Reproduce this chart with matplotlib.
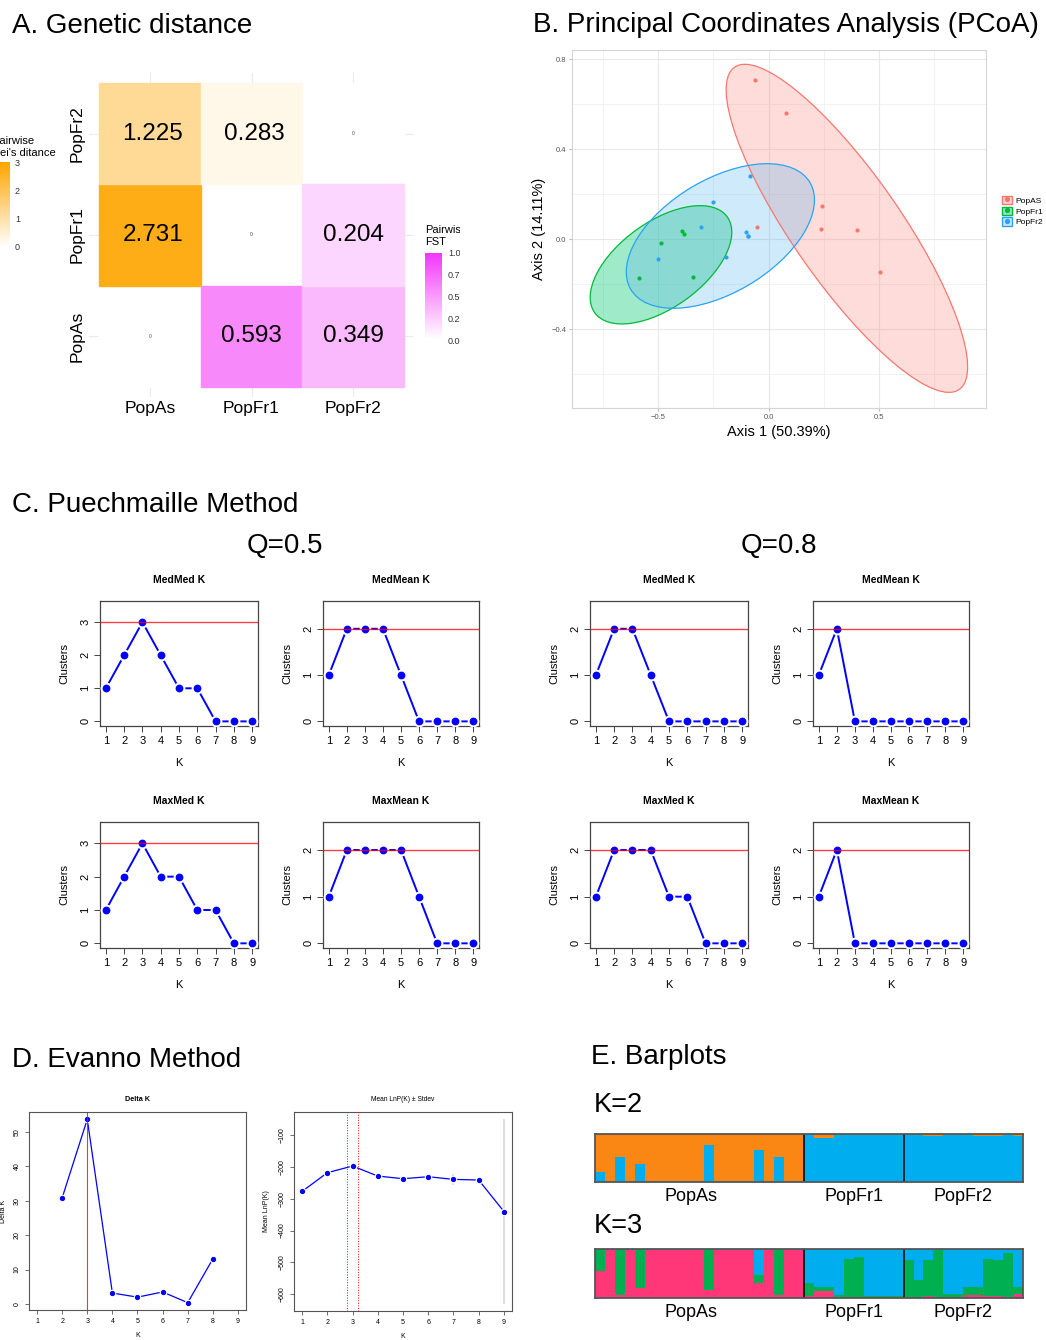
import numpy as np
import matplotlib
matplotlib.use("Agg")
import matplotlib.pyplot as plt
from matplotlib.patches import Rectangle, Ellipse, Patch
from matplotlib.lines import Line2D
from matplotlib.colors import LinearSegmentedColormap, Normalize
from matplotlib.transforms import Bbox, TransformedBbox, ScaledTranslation

plt.rcParams['font.family'] = ['Liberation Sans', 'DejaVu Sans']

# ----------------------------
# Data
# ----------------------------
pops = ["PopAs", "PopFr1", "PopFr2"]

# A. pairwise matrices (upper-left = Nei, lower-right = FST)
nei_x = ["PopAs", "PopAs", "PopFr1"]
nei_y = ["PopFr1", "PopFr2", "PopFr2"]
nei_val = [2.731, 1.225, 0.283]
fst_x = ["PopFr1", "PopFr2", "PopFr2"]
fst_y = ["PopAs", "PopAs", "PopFr1"]
fst_val = [0.593, 0.349, 0.204]

# B. PCoA coordinates
pcoa_groups = ["PopAS", "PopFr1", "PopFr2"]
as_x = [-0.06, 0.079, 0.243, 0.239, 0.40, 0.506, -0.051]
as_y = [0.706, 0.558, 0.145, 0.045, 0.042, -0.144, 0.056]
fr1_x = [-0.39, -0.382, -0.485, -0.344, -0.585]
fr1_y = [0.036, 0.024, -0.019, -0.168, -0.171]
fr2_x = [-0.083, -0.252, -0.304, -0.101, -0.094, -0.091, -0.193, -0.50]
fr2_y = [0.28, 0.163, 0.053, 0.031, 0.016, 0.013, -0.08, -0.089]
# 95% ellipses: centre, full width/height, angle (deg)
ell_cx = [0.355, -0.487, -0.218]
ell_cy = [0.048, -0.114, 0.014]
ell_w = [1.756, 0.736, 0.94]
ell_h = [0.486, 0.382, 0.505]
ell_ang = [-54.5, 35, 30]

# C. Puechmaille estimators, K = 1..9
k_vals = list(range(1, 10))
q05_medmed = [1, 2, 3, 2, 1, 1, 0, 0, 0]
q05_medmean = [1, 2, 2, 2, 1, 0, 0, 0, 0]
q05_maxmed = [1, 2, 3, 2, 2, 1, 1, 0, 0]
q05_maxmean = [1, 2, 2, 2, 2, 1, 0, 0, 0]
q08_medmed = [1, 2, 2, 1, 0, 0, 0, 0, 0]
q08_medmean = [1, 2, 0, 0, 0, 0, 0, 0, 0]
q08_maxmed = [1, 2, 2, 2, 1, 1, 0, 0, 0]
q08_maxmean = [1, 2, 0, 0, 0, 0, 0, 0, 0]

# D. Evanno
delta_k_x = [2, 3, 4, 5, 6, 7, 8]
delta_k = [30.8, 53.6, 3.2, 2.0, 3.5, 0.4, 13.1]
lnp_mean = [-276.8, -217.9, -196.8, -228.4, -236.8, -230.5, -238.9, -241.0, -340.0]
lnp_sd = [2, 3, 2, 3, 4, 3, 18, 5, 290]
best_k = 3

# E. Admixture proportions (21 PopAs, 10 PopFr1, 12 PopFr2)
pop_sizes = [21, 10, 12]
k2_blue = [0.21, 0.02, 0.53, 0.02, 0.38, 0.02, 0.02, 0.02, 0.02, 0.02, 0.02,
           0.78, 0.02, 0.02, 0.02, 0.02, 0.67, 0.02, 0.53, 0.02, 0.02,
           0.97, 0.92, 0.92, 0.98, 0.98, 0.98, 0.98, 0.98, 0.98, 0.98,
           0.97, 0.98, 0.96, 0.96, 0.98, 0.97, 0.98, 0.96, 0.96, 0.96, 0.98, 0.95]
k3_pink = [0.55, 0.97, 0.07, 0.97, 0.20, 0.97, 0.97, 0.97, 0.97, 0.97, 0.97,
           0.16, 0.97, 0.97, 0.97, 0.97, 0.30, 0.97, 0.07, 0.97, 0.97,
           0.04, 0.14, 0.14, 0.02, 0.02, 0.02, 0.02, 0.02, 0.02, 0.02,
           0.03, 0.03, 0.04, 0.03, 0.02, 0.02, 0.06, 0.06, 0.05, 0.04, 0.03, 0.08]
k3_green = [0.42, 0.01, 0.90, 0.01, 0.77, 0.01, 0.01, 0.01, 0.01, 0.01, 0.01,
            0.81, 0.01, 0.01, 0.01, 0.01, 0.16, 0.01, 0.90, 0.01, 0.01,
            0.26, 0.08, 0.08, 0.04, 0.77, 0.81, 0.02, 0.02, 0.02, 0.02,
            0.74, 0.34, 0.73, 0.94, 0.06, 0.06, 0.17, 0.17, 0.74, 0.74, 0.89, 0.15]

# ----------------------------
# Figure helpers (pixel coordinates, origin top-left)
# ----------------------------
W, H = 1046, 1340
fig = plt.figure(figsize=(W / 100, H / 100), dpi=100)


def ax_px(x0, y0, x1, y1):
    return fig.add_axes([x0 / W, 1 - y1 / H, (x1 - x0) / W, (y1 - y0) / H])


def ftext(x, y, s, **kw):
    return fig.text(x / W, 1 - y / H, s, **kw)


# ----------------------------
# A. Genetic distance
# ----------------------------
ftext(12, 26, "A. Genetic distance", fontsize=20, va='center')

orange_cmap = LinearSegmentedColormap.from_list("nei", ["white", "#FFA500"])
pink_cmap = LinearSegmentedColormap.from_list("fst", ["white", "#F237F8"])
nei_norm = Normalize(0, 3)
fst_norm = Normalize(0, 1)

axA = ax_px(89, 73, 414, 397)
idx = {p: i for i, p in enumerate(pops)}
for i in range(3):
    axA.add_patch(Rectangle((i - 0.5, i - 0.5), 1, 1, color="white", zorder=1))
    axA.text(i, i, "0", ha='center', va='center', fontsize=3.5, color='#444444', zorder=3)
for px_, py_, v in zip(nei_x, nei_y, nei_val):
    x, y = idx[px_], idx[py_]
    axA.add_patch(Rectangle((x - 0.5, y - 0.5), 1, 1, color=orange_cmap(nei_norm(v)), zorder=1))
    axA.text(x + 0.03, y, f"{v:.3f}", ha='center', va='center', fontsize=17.5, zorder=3)
for px_, py_, v in zip(fst_x, fst_y, fst_val):
    x, y = idx[px_], idx[py_]
    axA.add_patch(Rectangle((x - 0.5, y - 0.5), 1, 1, color=pink_cmap(fst_norm(v)), zorder=1))
    axA.text(x, y, f"{v:.3f}", ha='center', va='center', fontsize=17.5, zorder=3)
axA.set_xlim(-0.6, 2.6)
axA.set_ylim(-0.6, 2.6)
axA.set_xticks(range(3))
axA.set_yticks(range(3))
axA.set_xticklabels(pops, fontsize=12.5)
axA.set_yticklabels(pops, fontsize=12.5, rotation=90, va='center')
axA.tick_params(length=0, pad=3)
axA.grid(color='#EBEBEB', lw=0.8, zorder=0)
axA.set_axisbelow(True)
for s in axA.spines.values():
    s.set_visible(False)

grad = np.linspace(0, 1, 256).reshape(-1, 1)
# Nei legend (cut by the figure edge)
axL1 = ax_px(-7, 162, 10, 247)
axL1.imshow(grad, cmap=orange_cmap, aspect='auto', origin='lower')
axL1.axis('off')
ftext(-7.5, 141, "Pairwise", fontsize=8, va='center')
ftext(-7.5, 153, "Nei's ditance", fontsize=8, va='center')
for v, yy in zip([3, 2, 1, 0], [163, 191, 219, 247]):
    ftext(15, yy, str(v), fontsize=6.5, va='center', color='#333333')

# FST legend (cut at x=460)
clip = TransformedBbox(Bbox.from_extents(0, 0, 460 / W, 1), fig.transFigure)
axL2 = ax_px(425, 253, 442, 339)
axL2.imshow(grad, cmap=pink_cmap, aspect='auto', origin='lower')
axL2.axis('off')
legtexts = [ftext(425, 230, "Pairwise", fontsize=8, va='center'),
            ftext(425, 242, "FST", fontsize=8, va='center')]
for v, yy in zip(["1.00", "0.75", "0.50", "0.25", "0.00"], [253, 275, 297, 319, 341]):
    legtexts.append(ftext(448, yy, v, fontsize=6.5, va='center', color='#333333'))
for t in legtexts:
    t.set_clip_box(clip)
    t.set_clip_on(True)

# ----------------------------
# B. PCoA
# ----------------------------
ftext(533, 25, "B. Principal Coordinates Analysis (PCoA)", fontsize=20, va='center')
axB = ax_px(572, 50, 986, 408)
pc_cols = ["#F8766D", "#00BA38", "#2AA2F5"]
pc_fill = ["#F8766D", "#10CC7A", "#56B4F0"]
pc_alpha = [0.25, 0.4, 0.28]
for cx, cy, w, h, a, ec, fc, al in zip(ell_cx, ell_cy, ell_w, ell_h, ell_ang, pc_cols, pc_fill, pc_alpha):
    axB.add_patch(Ellipse((cx, cy), w, h, angle=a, facecolor=fc, alpha=al, lw=0, zorder=2))
    axB.add_patch(Ellipse((cx, cy), w, h, angle=a, facecolor='none', edgecolor=ec, lw=0.9, zorder=3))
for xs, ys, c in zip([as_x, fr1_x, fr2_x], [as_y, fr1_y, fr2_y], pc_cols):
    axB.scatter(xs, ys, s=9, color=c, zorder=4, linewidths=0)
axB.set_xlim(-0.89, 0.985)
axB.set_ylim(-0.75, 0.84)
axB.set_xticks([-0.5, 0.0, 0.5])
axB.set_xticks([-0.75, -0.25, 0.25, 0.75], minor=True)
axB.set_yticks([-0.4, 0.0, 0.4, 0.8])
axB.set_yticks([-0.6, -0.2, 0.2, 0.6], minor=True)
axB.grid(which='major', color='#E8E8E8', lw=0.8)
axB.grid(which='minor', color='#F0F0F0', lw=0.6)
axB.set_axisbelow(True)
axB.tick_params(labelsize=5.5, labelcolor='#555555', length=2, color='#BBBBBB', pad=2)
axB.tick_params(which='minor', length=0)
for s in axB.spines.values():
    s.set_color('#D5D5D5')
    s.set_linewidth(0.8)
axB.set_xlabel("Axis 1 (50.39%)", fontsize=10.5, labelpad=3)
axB.set_ylabel("Axis 2 (14.11%)", fontsize=10.5, labelpad=4)
handles = []
for ec, fc, al in zip(pc_cols, pc_fill, pc_alpha):
    handles.append((Patch(facecolor=fc, alpha=al + 0.05, edgecolor='none'),
                    Patch(facecolor='none', edgecolor=ec, lw=1.0),
                    Line2D([], [], marker='o', ls='', color=ec, ms=2.8)))
axB.legend(handles, pcoa_groups, loc='center left', bbox_to_anchor=(1.02, 0.55),
           frameon=False, fontsize=6, handlelength=1.2, handleheight=1.2,
           labelspacing=0.2, handletextpad=0.4)

# ----------------------------
# C. Puechmaille
# ----------------------------
ftext(12, 505, "C. Puechmaille Method", fontsize=20, va='center')
ftext(285, 546, "Q=0.5", fontsize=20, va='center', ha='center')
ftext(779, 546, "Q=0.8", fontsize=20, va='center', ha='center')


def cluster_plot(ax, vals, title):
    top = max(vals) + 0.5
    ax.plot(k_vals, vals, '-', color='blue', lw=1.4, zorder=2)
    ax.plot(k_vals, vals, 'o', color='white', ms=7.5, zorder=3)
    ax.plot(k_vals, vals, 'o', color='blue', ms=4.6, zorder=4)
    ax.axhline(max(vals), color='red', lw=1, alpha=0.75, zorder=5)
    ax.set_xlim(0.68, 9.32)
    ax.set_ylim(-0.04 * top, top * 1.04)
    ax.set_xticks(k_vals)
    ax.set_yticks(range(max(vals) + 1))
    ax.tick_params(labelsize=8, length=4, width=0.7, color='#444444', pad=3)
    for lab in ax.get_yticklabels():
        lab.set_rotation(90)
        lab.set_va('center')
    for s in ax.spines.values():
        s.set_color('#444444')
        s.set_linewidth(0.9)
    ax.set_title(title, fontsize=7.5, fontweight='bold', pad=13)
    ax.set_xlabel("K", fontsize=8, labelpad=9)
    ax.set_ylabel("Clusters", fontsize=8, labelpad=8)


rows = [(601, 726), (822, 948)]
cols = [(100, 258), (323, 479), (590, 748), (813, 969)]
panels = [[(q05_medmed, "MedMed K"), (q05_medmean, "MedMean K"),
           (q08_medmed, "MedMed K"), (q08_medmean, "MedMean K")],
          [(q05_maxmed, "MaxMed K"), (q05_maxmean, "MaxMean K"),
           (q08_maxmed, "MaxMed K"), (q08_maxmean, "MaxMean K")]]
for (y0, y1), row in zip(rows, panels):
    for (x0, x1), (vals, title) in zip(cols, row):
        cluster_plot(ax_px(x0, y0, x1, y1), vals, title)

# ----------------------------
# D. Evanno
# ----------------------------
ftext(12, 1060, "D. Evanno Method", fontsize=20, va='center')

axD1 = ax_px(29, 1112, 246, 1310)
axD1.plot(delta_k_x, delta_k, '-', color='blue', lw=0.9, zorder=2)
axD1.plot(delta_k_x, delta_k, 'o', color='white', ms=4.5, zorder=3)
axD1.plot(delta_k_x, delta_k, 'o', color='blue', ms=2.8, zorder=4)
axD1.axvline(best_k, color='red', lw=0.8, alpha=0.8, zorder=5)
rng = max(delta_k) - min(delta_k)
axD1.set_ylim(min(delta_k) - 0.04 * rng, max(delta_k) + 0.04 * rng)
axD1.set_title("Delta K", fontsize=5.2, fontweight='bold', pad=8)
axD1.set_yticks(range(0, 60, 10))
axD1.set_ylabel("Delta K", fontsize=5, labelpad=5)

axD2 = ax_px(294, 1112, 512, 1311)
axD2.errorbar(k_vals, lnp_mean, yerr=lnp_sd, fmt='none', ecolor='#D8D8D8', elinewidth=1.2, zorder=1)
axD2.plot(k_vals, lnp_mean, '-', color='blue', lw=0.9, zorder=2)
axD2.plot(k_vals, lnp_mean, 'o', color='white', ms=4.5, zorder=3)
axD2.plot(k_vals, lnp_mean, 'o', color='blue', ms=2.8, zorder=4)
for xv in [best_k - 0.2, best_k + 0.2]:
    axD2.axvline(xv, color='red', lw=0.7, ls=':', zorder=5)
lo = min(m - s for m, s in zip(lnp_mean, lnp_sd))
hi = max(m + s for m, s in zip(lnp_mean, lnp_sd))
axD2.set_ylim(lo - 0.04 * (hi - lo), hi + 0.04 * (hi - lo))
axD2.set_yticks(range(-600, 0, 100))
axD2.set_title("Mean LnP(K) \u00b1 Stdev", fontsize=4.8, pad=8)
axD2.set_ylabel("Mean LnP(K)", fontsize=5, labelpad=6)

for ax in (axD1, axD2):
    ax.set_xlim(0.68, 9.32)
    ax.set_xticks(k_vals)
    ax.set_xlabel("K", fontsize=5, labelpad=5)
    ax.tick_params(labelsize=5, length=3, width=0.6, color='#555555', pad=3)
    for lab in ax.get_yticklabels():
        lab.set_rotation(90)
        lab.set_va('center')
    for s in ax.spines.values():
        s.set_color('#555555')
        s.set_linewidth(0.8)

# ----------------------------
# E. Barplots
# ----------------------------
ftext(591, 1057, "E. Barplots", fontsize=20, va='center')
ftext(594, 1105, "K=2", fontsize=19.5, va='center')
ftext(594, 1226, "K=3", fontsize=19.5, va='center')

n_ind = sum(pop_sizes)
xs = np.arange(n_ind) + 0.5
bounds = np.cumsum(pop_sizes)
centers = bounds - np.array(pop_sizes) / 2


def admix_axes(ax):
    for b in bounds[:-1]:
        ax.axvline(b, color='black', lw=1.1, zorder=5)
    ax.set_xlim(0, n_ind)
    ax.set_ylim(0, 1)
    ax.set_yticks([])
    ax.set_xticks(centers)
    ax.set_xticklabels(pops, fontsize=13)
    ax.tick_params(length=0, pad=4)
    # PopAs label sits a little left of the group centre in the original
    lab = ax.get_xticklabels()[0]
    lab.set_transform(lab.get_transform() + ScaledTranslation(-0.09, 0, fig.dpi_scale_trans))
    for s in ax.spines.values():
        s.set_color('#555555')
        s.set_linewidth(1.3)
        s.set_zorder(6)


axE1 = ax_px(595, 1134, 1023, 1182)
k2_blue = np.array(k2_blue)
axE1.bar(xs, k2_blue, width=1.0, color="#00AEEF", lw=0)
axE1.bar(xs, 1 - k2_blue, bottom=k2_blue, width=1.0, color="#FA8714", lw=0)
admix_axes(axE1)

axE2 = ax_px(595, 1249, 1023, 1298)
k3_pink = np.array(k3_pink)
k3_green = np.array(k3_green)
k3_blue = 1 - k3_pink - k3_green
axE2.bar(xs, k3_pink, width=1.0, color="#FF3678", lw=0)
axE2.bar(xs, k3_green, bottom=k3_pink, width=1.0, color="#00B050", lw=0)
axE2.bar(xs, k3_blue, bottom=k3_pink + k3_green, width=1.0, color="#00AEEF", lw=0)
admix_axes(axE2)

fig.savefig("out.png", dpi=100)
